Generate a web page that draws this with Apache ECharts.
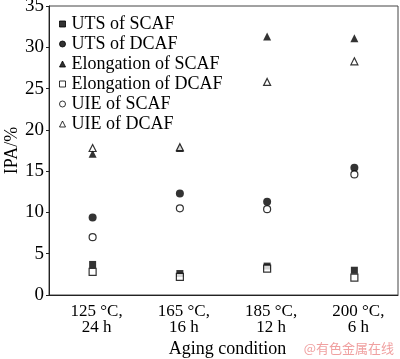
<!DOCTYPE html>
<html><head><meta charset="utf-8">
<script src="https://cdn.jsdelivr.net/npm/echarts@6/dist/echarts.min.js"></script>
<style>html,body{margin:0;padding:0;background:#fff}#c{width:400px;height:359px}</style>
</head><body><div id="c"></div>
<script>
var categories = ['125 \u00B0C,\n24 h', '165 \u00B0C,\n16 h', '185 \u00B0C,\n12 h', '200 \u00B0C,\n6 h'];
var utsSCAF = [3.7, 2.6, 3.5, 3.0];
var utsDCAF = [9.4, 12.3, 11.3, 15.4];
var elongSCAF = [17.1, 17.8, 31.3, 31.1];
var elongDCAF = [2.8, 2.2, 3.2, 2.1];
var uieSCAF = [7.0, 10.5, 10.4, 14.6];
var uieDCAF = [17.8, 17.9, 25.8, 28.3];
var seriesNames = ['UTS of SCAF', 'UTS of DCAF', 'Elongation of SCAF', 'Elongation of DCAF', 'UIE of SCAF', 'UIE of DCAF'];

var font = '"Liberation Serif", "Times New Roman", serif';
function mk(name, data, symbol, filled, size) {
  return {
    name: name, type: 'scatter', data: data, symbol: symbol, symbolSize: size,
    itemStyle: filled ? {color: '#000', borderColor: '#000', borderWidth: 0}
                      : {color: '#fff', borderColor: '#000', borderWidth: 1.2},
    emphasis: {disabled: true}
  };
}
var chart = echarts.init(document.getElementById('c'), null, {renderer: 'canvas'});
chart.setOption({
  animation: false,
  backgroundColor: '#fff',
  grid: {left: 49, right: 2, top: 6, bottom: 64, show: true, borderColor: '#444', borderWidth: 1,
         containLabel: false, outerBoundsMode: 'none'},
  legend: {
    orient: 'vertical', left: 59, top: 14, itemWidth: 6, itemHeight: 6, itemGap: 0, padding: 0,
    itemStyle: {borderWidth: 1},
    textStyle: {fontFamily: font, fontSize: 18, color: '#000', lineHeight: 20, padding: [0, 0, 0, 1]},
    data: seriesNames
  },
  xAxis: {
    type: 'category', data: categories, boundaryGap: true,
    axisLine: {lineStyle: {color: '#222', width: 1}},
    axisTick: {alignWithLabel: true, inside: true, length: 4, lineStyle: {color: '#222'}},
    axisLabel: {fontFamily: font, fontSize: 17, color: '#000', lineHeight: 16, margin: 9, padding: [0, 0, 0, 8]},
    name: 'Aging condition', nameLocation: 'middle', nameGap: 45, nameMoveOverlap: false,
    nameTextStyle: {fontFamily: font, fontSize: 18, color: '#000', padding: [0, 0, 0, 8]}
  },
  yAxis: {
    type: 'value', min: 0, max: 35, interval: 5,
    axisLine: {show: true, lineStyle: {color: '#222', width: 1}},
    axisTick: {show: true, inside: false, length: 3, lineStyle: {color: '#222'}},
    axisLabel: {fontFamily: font, fontSize: 19, color: '#000', margin: 5},
    splitLine: {show: false},
    name: 'IPA/%', nameLocation: 'middle', nameGap: 28, nameRotate: 90, nameMoveOverlap: false,
    nameTextStyle: {fontFamily: font, fontSize: 18, color: '#000'}
  },
  series: [
    mk(seriesNames[0], utsSCAF, 'rect', true, 7),
    mk(seriesNames[1], utsDCAF, 'circle', true, 8),
    mk(seriesNames[2], elongSCAF, 'triangle', true, 8),
    mk(seriesNames[3], elongDCAF, 'rect', false, 7),
    mk(seriesNames[4], uieSCAF, 'circle', false, 7),
    mk(seriesNames[5], uieDCAF, 'triangle', false, 7)
  ],
  graphic: [{
    type: 'text', right: 6, top: 342,
    style: {text: '@有色金属在线', fontFamily: '"Noto Sans CJK SC", sans-serif', fontSize: 13, fill: '#f0a0a0'}
  }]
});
</script></body></html>
